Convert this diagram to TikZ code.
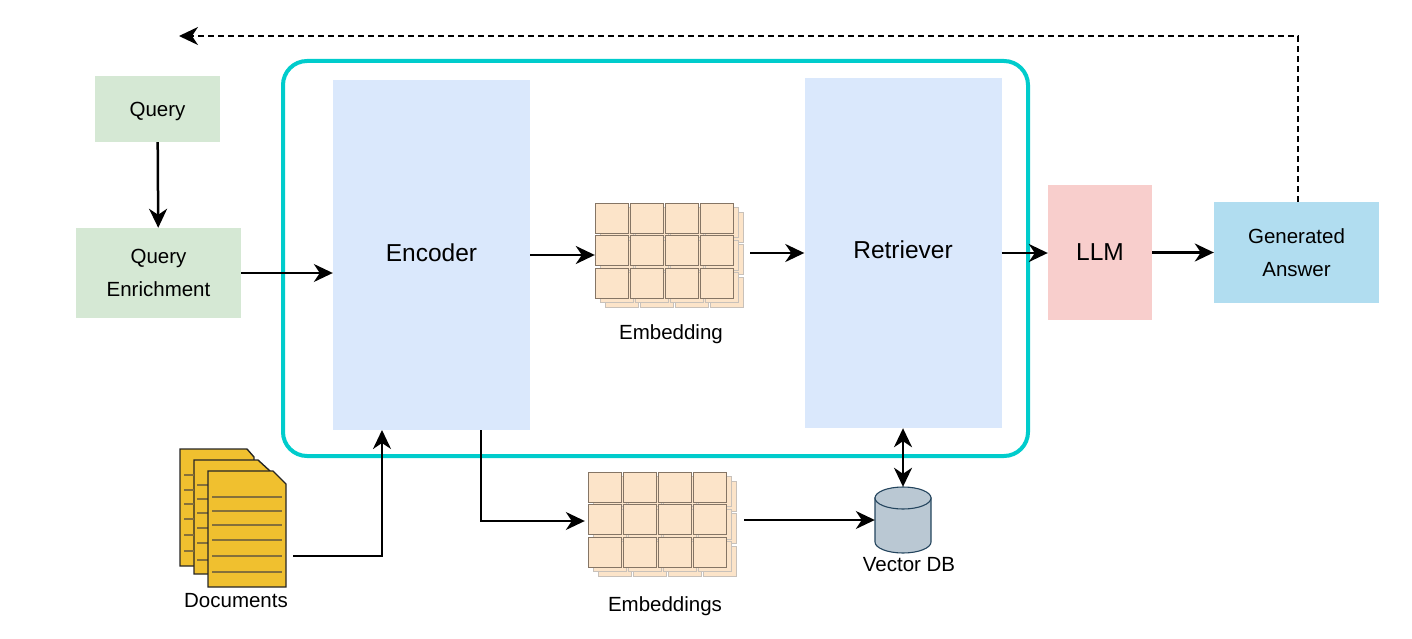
\documentclass[tikz,border=0pt]{standalone}
\usepackage{fontspec}
\setmainfont{Liberation Sans}
\usepackage{tikz}
\usetikzlibrary{arrows.meta, positioning}
\definecolor{querygreen}{HTML}{D5E8D4}
\definecolor{blockblue}{HTML}{DAE8FC}
\definecolor{llmred}{HTML}{F8CECC}
\definecolor{answerblue}{HTML}{B1DDF0}
\definecolor{ragteal}{HTML}{00CCCC}
\definecolor{tilefill}{HTML}{FCE4C9}
\definecolor{tileedge}{HTML}{857565}
\definecolor{docyellow}{HTML}{F0C02F}
\definecolor{docline}{HTML}{85703A}
\definecolor{dbfill}{HTML}{BAC8D3}
\definecolor{dbedge}{HTML}{23445D}
\tikzset{
->, % every connector is directed
>={Stealth[length=19pt, width=18pt, inset=6pt]},
small text/.style={font=\fontsize{20.5}{33}\selectfont},
big text/.style={font=\fontsize{24.5}{30}\selectfont},
block/.style={inner sep=0pt, align=center, small text},
tilebox/.style={inner sep=0pt, minimum width=148pt, minimum height=103pt},
tile/.style={draw=tileedge, line width=1pt, fill=tilefill, -},
back tile/.style={draw=tileedge!45, line width=0.9pt, fill=tilefill, -},
doc page/.style={draw=black!85, line width=1.4pt, fill=docyellow, -},
doc rule/.style={draw=docline, line width=1.7pt, -},
db shape/.style={draw=dbedge, line width=1.1pt, fill=dbfill, -},
link/.style={line width=2.5pt, line join=miter},
thin link/.style={line width=1.7pt},
pics/tiles/.style={code={
    \foreach \layer/\kind in {10/back tile,5/back tile,0/tile}
        \foreach \col in {0,...,3}
            \foreach \row in {0,...,2}
                \path[\kind, shift={(\layer+\col*35,\layer*0.9+\row*32.5)}] (-69,-47.5) rectangle +(33.5,30);
}},
}

\begin{document}
\begin{tikzpicture}[x=1pt, y=-1pt]
    \useasboundingbox[-] (0,0) rectangle (1412,639);

    % boxes
    \node[block, text height=20pt, text depth=4pt, fill=querygreen, minimum width=125pt, minimum height=66pt] (query) at (157.5,109) {Query};
    \node[block, fill=querygreen, minimum width=165pt, minimum height=90pt] (enrich) at (158.5,273) {Query\\Enrichment};
    \node[block, big text, text height=18pt, text depth=6pt, fill=blockblue, minimum width=197pt, minimum height=350pt] (encoder) at (431.5,255) {Encoder};
    \node[block, big text, text height=18pt, text depth=8pt, fill=blockblue, minimum width=197pt, minimum height=350pt] (retriever) at (903,253) {Retriever};
    \node[block, big text, fill=llmred, minimum width=104pt, minimum height=135pt] (llm) at (1100,252.5) {LLM};
    \node[block, fill=answerblue, minimum width=165pt, minimum height=101pt] (answer) at (1296.5,252.5) {Generated\\Answer};

    % outer frame
    \node[draw=ragteal, line width=4pt, rounded corners=24pt, inner sep=0pt, minimum width=745pt, minimum height=395pt] (frame) at (655.5,258.5) {};

    % embeddings
    \pic at (664,250.5) {tiles};
    \node[tilebox] (embedding) at (669,254.5) {};
    \node[block] (embeddinglabel) at (671,334.5) {Embedding};
    \pic at (657,519.5) {tiles};
    \node[tilebox] (embeddings) at (662,523.5) {};
    \node[block] (embeddingslabel) at (665,606.5) {Embeddings};

    % documents
    \foreach \px/\py/\pr/\pb/\cx/\cy in {180/449/254/566/247/457, 194/460/270/574/258/471} {
        \path[doc page] (\px,\py) -- (\cx,\py) -- (\pr,\cy) -- (\pr,\pb) -- (\px,\pb) -- cycle;
    }
    \foreach \ry in {475,490,504,519,535,551}
        \path[doc rule] (184,\ry) -- (194,\ry);
    \foreach \ry in {485,499,513,528,543,560}
        \path[doc rule] (197,\ry) -- (208,\ry);
    \path[doc page] (208,471) -- (273,471) -- (286,484) -- (286,587) -- (208,587) -- cycle;
    \foreach \ry in {497,511,525,540,556,572}
        \path[doc rule] (212,\ry) -- (282,\ry);
    \node[block] (documentslabel) at (236,601) {Documents};

    % vector database
    \node[inner sep=0pt, minimum width=56pt, minimum height=66pt] (db) at (903,520) {};
    \path[db shape] (875,498) -- (875,542) arc[start angle=180, end angle=360, x radius=28pt, y radius=11pt] -- (931,498) -- cycle;
    \path[db shape] (903,498) ellipse[x radius=28pt, y radius=11pt];
    \node[block] (dblabel) at (909,565) {Vector DB};

    % connectors
    \draw[link] (query) -- (enrich);
    \draw[thin link] (enrich.east) -- (encoder.west |- enrich.east);
    \draw[link] (encoder.east) -- (embedding.west |- encoder.east);
    \draw[link] ([xshift=7pt]embedding.east |- retriever.west) -- (retriever.west);
    \draw[link] (retriever.east) -- (llm.west |- retriever.east);
    \draw[link] (llm.east) -- (answer.west);
    \coordinate (returnturn) at (1298,36);
    \coordinate (returnend) at (179,36);
    \draw[thin link, dash pattern=on 6pt off 4pt] ([xshift=1.5pt]answer.north) -- (returnturn) -- (returnend);
    \coordinate (docturn) at (382,556);
    \coordinate (docstart) at (293,556);
    \coordinate (docend) at (382,430);
    \draw[link] (docstart) -- (docturn) -- (docend);
    \coordinate (encodertap) at (481,430);
    \coordinate (encoderturn) at (481,521);
    \draw[thin link] (encodertap) -- (encoderturn) -- ([xshift=-3pt]embeddings.west |- encoderturn);
    \draw[thin link] ([xshift=8pt]embeddings.east |- db.west) -- (db.west);
    \draw[link, <->] (retriever.south) -- (db.north);
\end{tikzpicture}
\end{document}
